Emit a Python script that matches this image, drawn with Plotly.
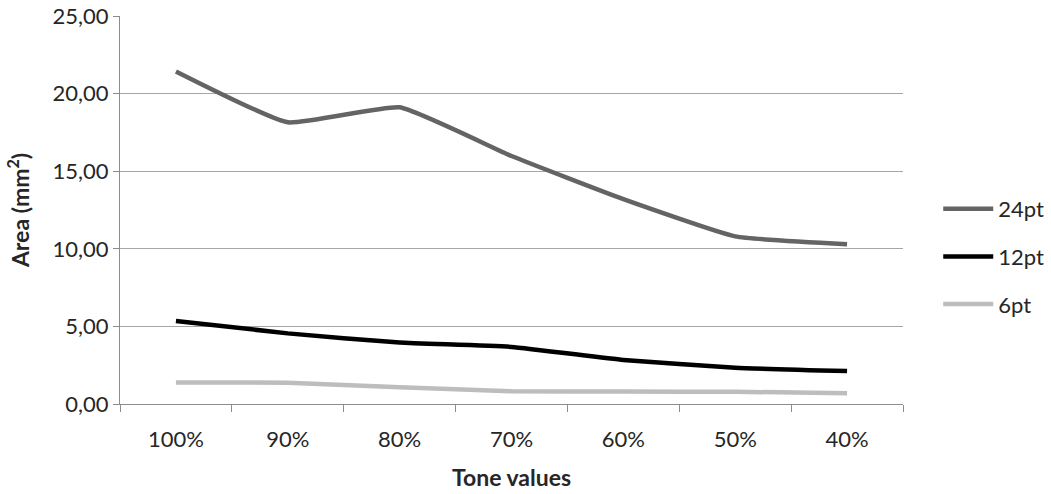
import plotly.graph_objects as go

# Tone values on the x axis and measured areas (mm²) per type size
tones = ["100%", "90%", "80%", "70%", "60%", "50%", "40%"]
area_24pt = [21.43, 18.15, 19.12, 15.98, 13.2, 10.8, 10.3]
area_12pt = [5.35, 4.55, 3.96, 3.68, 2.84, 2.34, 2.12]
area_6pt = [1.38, 1.37, 1.08, 0.82, 0.8, 0.79, 0.69]

series = [
    ("24pt", area_24pt, "#646464"),
    ("12pt", area_12pt, "#000000"),
    ("6pt", area_6pt, "#bdbdbd"),
]

FONT = "Lato"
TEXT = "#262626"
AXIS = "#8c8c8c"

fig = go.Figure()
for name, values, color in series:
    fig.add_trace(go.Scatter(
        x=tones, y=values, name=name, mode="lines", legendgroup=name,
        line=dict(color=color, width=4.5, shape="spline", smoothing=0.4),
    ))

fig.update_layout(
    width=1051, height=494,
    margin=dict(l=120, r=148, t=16, b=90, autoexpand=False),
    plot_bgcolor="white", paper_bgcolor="white",
    separators=",.",
    font=dict(family=FONT, size=22, color=TEXT),
    legend=dict(
        x=1.045, xanchor="left", y=0.38, yanchor="middle",
        font=dict(family=FONT, size=22, color=TEXT),
        itemwidth=50, tracegroupgap=16,
        bgcolor="rgba(0,0,0,0)",
    ),
    xaxis=dict(
        type="category",
        range=[-0.5, 6.5],
        automargin=False,
        tickson="boundaries",
        ticks="outside", ticklen=7, tickcolor=AXIS,
        ticklabelstandoff=16,
        showline=True, linecolor=AXIS, linewidth=1,
        showgrid=False,
        tickfont=dict(family=FONT, size=22, color=TEXT),
        title=dict(text="<b>Tone values</b>", font=dict(family=FONT, size=23, color=TEXT), standoff=18),
    ),
    yaxis=dict(
        range=[0, 25], dtick=5, tickformat=".2f",
        automargin=False,
        ticks="outside", ticklen=6, tickcolor=AXIS,
        showline=True, linecolor=AXIS, linewidth=1,
        showgrid=True, gridcolor="#a6a6a6", gridwidth=1,
        zeroline=False,
        tickfont=dict(family=FONT, size=22, color=TEXT),
        title=dict(text="<b>Area (mm<sup>2</sup>)</b>", font=dict(family=FONT, size=23, color=TEXT), standoff=16),
    ),
)

fig.write_html("out.html")
